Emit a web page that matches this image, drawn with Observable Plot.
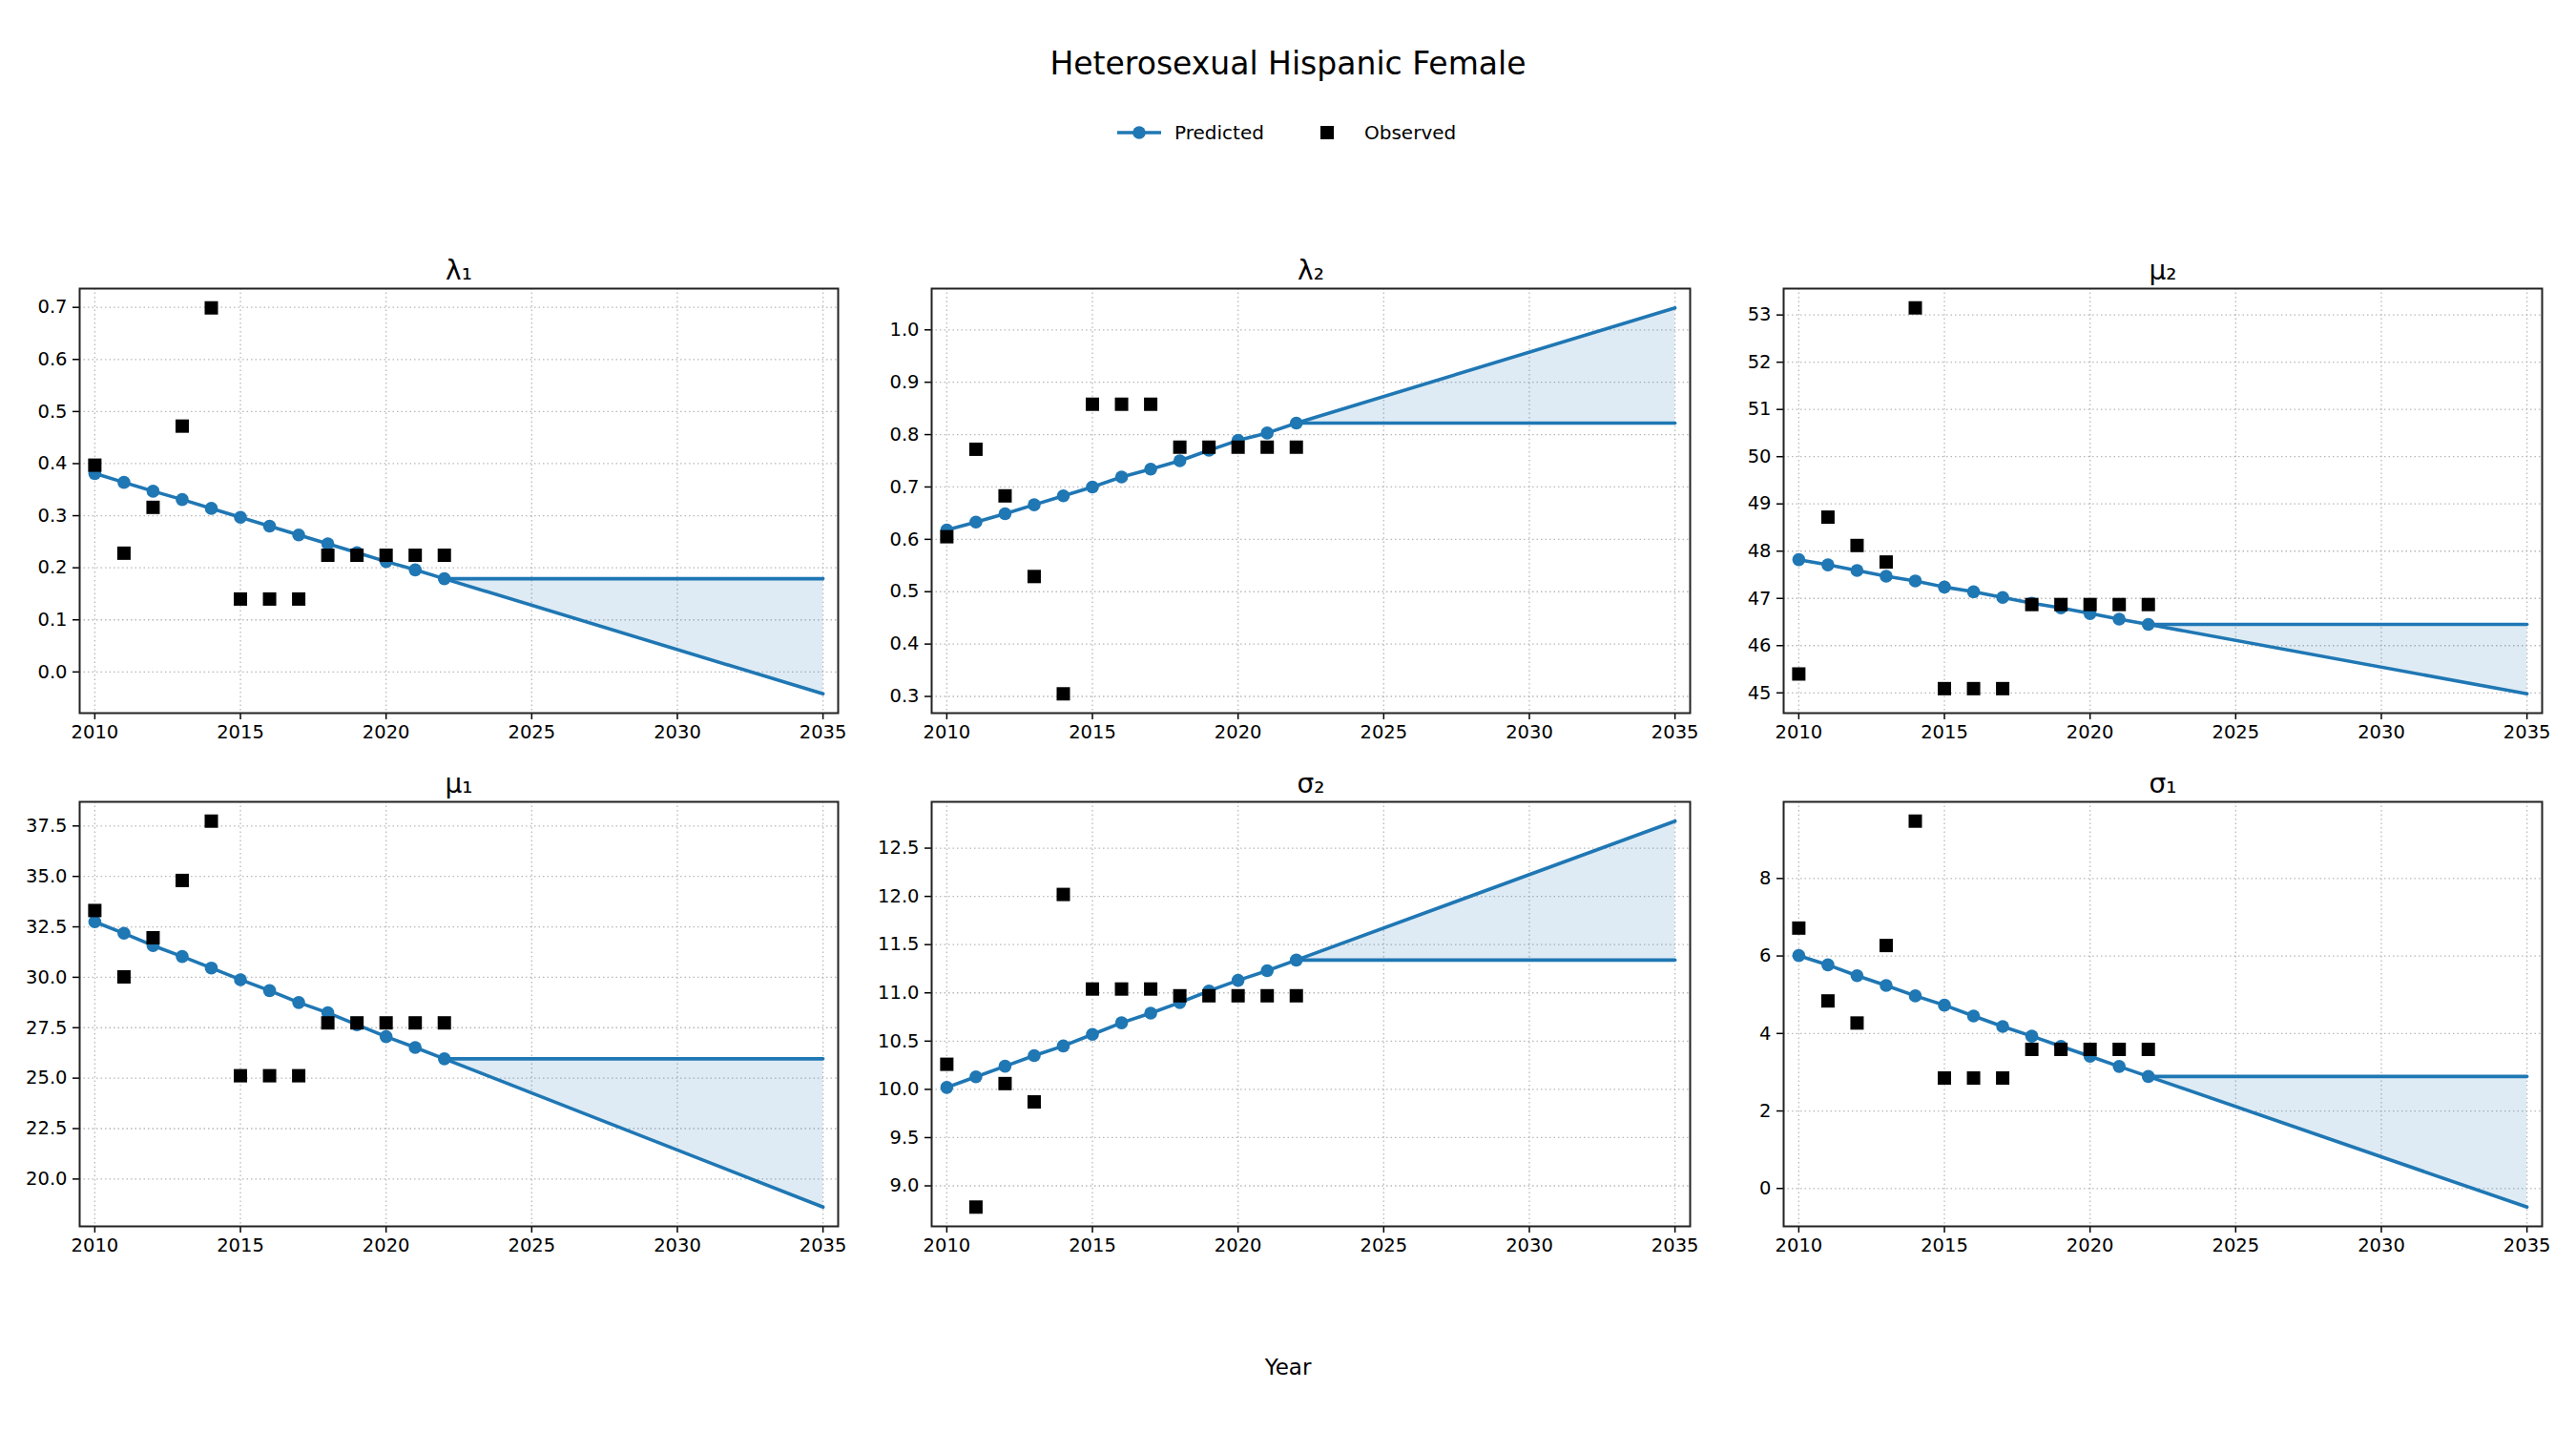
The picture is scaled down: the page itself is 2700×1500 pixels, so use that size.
<!DOCTYPE html>
<html>
<head>
<meta charset="utf-8">
<script src="https://cdn.jsdelivr.net/npm/d3@7"></script>
<script src="https://cdn.jsdelivr.net/npm/@observablehq/plot@0.6"></script>
<style>
  html, body { margin: 0; padding: 0; background: #fff; }
  #root { position: relative; width: 2700px; height: 1500px; font-family: "DejaVu Sans", sans-serif; color: #000; }
  .abs { position: absolute; }
  .title { font-size: 33px; white-space: nowrap; transform: translate(-50%, -50%); }
  .xlabel { font-size: 23px; white-space: nowrap; transform: translate(-50%, -50%); }
</style>
</head>
<body>
<div id="root"></div>
<script>
// ---------- data ----------
const years = [2010, 2011, 2012, 2013, 2014, 2015, 2016, 2017, 2018, 2019, 2020, 2021, 2022];
const projYears = [2022, 2035];
const xTicks = [2010, 2015, 2020, 2025, 2030, 2035];

const figTitle = "Heterosexual Hispanic Female";
const xLabel = "Year";
const legendLabels = ["Predicted", "Observed"];
const panelTitles = ["λ₁", "λ₂", "μ₂", "μ₁", "σ₂", "σ₁"];

const lambda1Pred = [0.381, 0.364, 0.347, 0.331, 0.314, 0.297, 0.280, 0.263, 0.246, 0.229, 0.212, 0.196, 0.179];
const lambda1Obs  = [0.397, 0.228, 0.316, 0.472, 0.699, 0.140, 0.140, 0.140, 0.224, 0.224, 0.224, 0.224, 0.224];
const lambda1ProjFlat  = [0.179, 0.179];
const lambda1ProjTrend = [0.179, -0.042];
const lambda1Ticks = [0.0, 0.1, 0.2, 0.3, 0.4, 0.5, 0.6, 0.7];

const lambda2Pred = [0.618, 0.633, 0.649, 0.666, 0.683, 0.700, 0.719, 0.734, 0.750, 0.770, 0.789, 0.803, 0.822];
const lambda2Obs  = [0.605, 0.772, 0.683, 0.529, 0.305, 0.858, 0.858, 0.858, 0.776, 0.776, 0.776, 0.776, 0.776];
const lambda2ProjFlat  = [0.822, 0.822];
const lambda2ProjTrend = [0.822, 1.042];
const lambda2Ticks = [0.3, 0.4, 0.5, 0.6, 0.7, 0.8, 0.9, 1.0];

const mu2Pred = [47.82, 47.71, 47.59, 47.47, 47.37, 47.24, 47.14, 47.02, 46.90, 46.80, 46.68, 46.56, 46.45];
const mu2Obs  = [45.40, 48.72, 48.12, 47.77, 53.15, 45.09, 45.09, 45.09, 46.87, 46.87, 46.87, 46.87, 46.87];
const mu2ProjFlat  = [46.45, 46.45];
const mu2ProjTrend = [46.45, 44.98];
const mu2Ticks = [45, 46, 47, 48, 49, 50, 51, 52, 53];

const mu1Pred = [32.75, 32.18, 31.57, 31.03, 30.46, 29.88, 29.34, 28.75, 28.24, 27.65, 27.06, 26.52, 25.96];
const mu1Obs  = [33.31, 30.02, 31.96, 34.80, 37.74, 25.12, 25.12, 25.12, 27.74, 27.74, 27.74, 27.74, 27.74];
const mu1ProjFlat  = [25.96, 25.96];
const mu1ProjTrend = [25.96, 18.61];
const mu1Ticks = [20.0, 22.5, 25.0, 27.5, 30.0, 32.5, 35.0, 37.5];

const sigma2Pred = [10.02, 10.13, 10.24, 10.35, 10.45, 10.57, 10.69, 10.79, 10.90, 11.02, 11.13, 11.23, 11.34];
const sigma2Obs  = [10.26, 8.78, 10.06, 9.87, 12.02, 11.04, 11.04, 11.04, 10.97, 10.97, 10.97, 10.97, 10.97];
const sigma2ProjFlat  = [11.34, 11.34];
const sigma2ProjTrend = [11.34, 12.78];
const sigma2Ticks = [9.0, 9.5, 10.0, 10.5, 11.0, 11.5, 12.0, 12.5];

const sigma1Pred = [6.01, 5.77, 5.49, 5.24, 4.97, 4.73, 4.45, 4.18, 3.93, 3.67, 3.41, 3.15, 2.89];
const sigma1Obs  = [6.72, 4.84, 4.27, 6.27, 9.48, 2.85, 2.85, 2.85, 3.59, 3.59, 3.59, 3.59, 3.59];
const sigma1ProjFlat  = [2.89, 2.89];
const sigma1ProjTrend = [2.89, -0.48];
const sigma1Ticks = [0, 2, 4, 6, 8];

// ---------- panels ----------
const panels = [
  {title: panelTitles[0], pred: lambda1Pred, obs: lambda1Obs, flat: lambda1ProjFlat, trend: lambda1ProjTrend, ticks: lambda1Ticks, fmt: ".1f"},
  {title: panelTitles[1], pred: lambda2Pred, obs: lambda2Obs, flat: lambda2ProjFlat, trend: lambda2ProjTrend, ticks: lambda2Ticks, fmt: ".1f"},
  {title: panelTitles[2], pred: mu2Pred, obs: mu2Obs, flat: mu2ProjFlat, trend: mu2ProjTrend, ticks: mu2Ticks, fmt: "d"},
  {title: panelTitles[3], pred: mu1Pred, obs: mu1Obs, flat: mu1ProjFlat, trend: mu1ProjTrend, ticks: mu1Ticks, fmt: ".1f"},
  {title: panelTitles[4], pred: sigma2Pred, obs: sigma2Obs, flat: sigma2ProjFlat, trend: sigma2ProjTrend, ticks: sigma2Ticks, fmt: ".1f"},
  {title: panelTitles[5], pred: sigma1Pred, obs: sigma1Obs, flat: sigma1ProjFlat, trend: sigma1ProjTrend, ticks: sigma1Ticks, fmt: "d"}
];

const BLUE = "#1f77b4";
const frameLefts = [83, 976, 1869];
const frameTops = [302, 840];
const frameW = 795, frameH = 445;
const mL = 70, mR = 12, mT = 56, mB = 44;

const root = document.getElementById("root");

function addDiv(cls, text, x, y) {
  const d = document.createElement("div");
  d.className = "abs " + cls;
  d.textContent = text;
  d.style.left = x + "px";
  d.style.top = y + "px";
  root.appendChild(d);
}

addDiv("title", figTitle, 1350, 66);
addDiv("xlabel", xLabel, 1350, 1433);

// legend (hand-built key)
const legNS = "http://www.w3.org/2000/svg";
const leg = document.createElementNS(legNS, "svg");
leg.setAttribute("width", 420); leg.setAttribute("height", 40);
leg.style.position = "absolute"; leg.style.left = "1160px"; leg.style.top = "119px";
leg.innerHTML = `
  <line x1="11" y1="20" x2="57" y2="20" stroke="${BLUE}" stroke-width="3.5"/>
  <circle cx="34" cy="20" r="6.8" fill="${BLUE}"/>
  <text x="71" y="20" dy="0.35em" font-family="DejaVu Sans" font-size="20px">${legendLabels[0]}</text>
  <rect x="224" y="13" width="14" height="14" fill="#000"/>
  <text x="270" y="20" dy="0.35em" font-family="DejaVu Sans" font-size="20px">${legendLabels[1]}</text>`;
root.appendChild(leg);

panels.forEach((p, i) => {
  const col = i % 3, row = Math.floor(i / 3);
  const predRows = years.map((yr, k) => ({year: yr, v: p.pred[k]}));
  const obsRows = years.map((yr, k) => ({year: yr, v: p.obs[k]}));
  const projRows = projYears.map((yr, k) => ({year: yr, flat: p.flat[k], trend: p.trend[k]}));
  const all = [...p.pred, ...p.obs, ...p.flat, ...p.trend];
  const lo = d3.min(all), hi = d3.max(all), pad = (hi - lo) * 0.05;

  const chart = Plot.plot({
    width: frameW + mL + mR,
    height: frameH + mT + mB,
    marginLeft: mL, marginRight: mR, marginTop: mT, marginBottom: mB,
    style: {fontFamily: "DejaVu Sans", fontSize: "19.5px", color: "#000", background: "transparent", overflow: "visible"},
    x: {domain: [2009.48, 2035.52], ticks: xTicks, tickFormat: "d", tickSize: 7, tickPadding: 6, label: null},
    y: {domain: [lo - pad, hi + pad], ticks: p.ticks, tickFormat: p.fmt, tickSize: 7, tickPadding: 6, label: null},
    marks: [
      Plot.gridX(xTicks, {stroke: "#b0b0b0", strokeOpacity: 0.9, strokeWidth: 1.3, strokeDasharray: "1.5,3"}),
      Plot.gridY(p.ticks, {stroke: "#b0b0b0", strokeOpacity: 0.9, strokeWidth: 1.3, strokeDasharray: "1.5,3"}),
      Plot.areaY(projRows, {x: "year", y1: "flat", y2: "trend", fill: BLUE, fillOpacity: 0.15}),
      Plot.line(projRows, {x: "year", y: "flat", stroke: BLUE, strokeWidth: 3.6}),
      Plot.line(projRows, {x: "year", y: "trend", stroke: BLUE, strokeWidth: 3.6}),
      Plot.line(predRows, {x: "year", y: "v", stroke: BLUE, strokeWidth: 3.6}),
      Plot.dot(predRows, {x: "year", y: "v", r: 6.8, fill: BLUE, stroke: "none"}),
      Plot.dot(obsRows, {x: "year", y: "v", r: 7.9, symbol: "square", fill: "#000", stroke: "none"}),
      Plot.axisX(xTicks, {tickSize: 7, tickPadding: 6, tickFormat: "d", stroke: "#000", strokeWidth: 1.5, label: null}),
      Plot.axisY(p.ticks, {tickSize: 7, tickPadding: 6, tickFormat: p.fmt, stroke: "#000", strokeWidth: 1.5, label: null}),
      Plot.frame({stroke: "#222", strokeWidth: 2}),
      Plot.text([p.title], {frameAnchor: "top", dy: -29, fontSize: 28, fill: "#000"})
    ]
  });
  chart.style.position = "absolute";
  chart.style.left = (frameLefts[col] - mL) + "px";
  chart.style.top = (frameTops[row] - mT) + "px";
  root.appendChild(chart);
});
</script>
</body>
</html>
